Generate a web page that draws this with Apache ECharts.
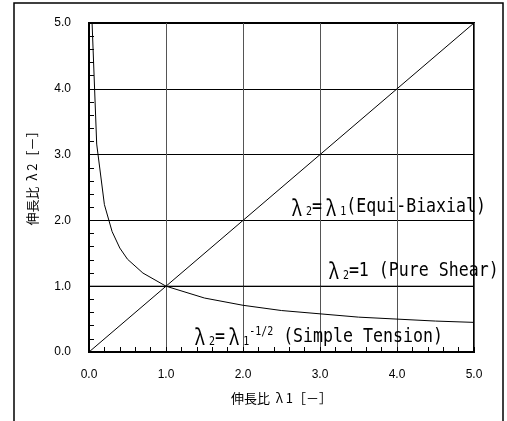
<!DOCTYPE html>
<html>
<head>
<meta charset="utf-8">
<script src="https://cdn.jsdelivr.net/npm/echarts@6/dist/echarts.min.js"></script>
<style>
html,body{margin:0;padding:0;background:#fff;}
#c{width:507px;height:421px;}
</style>
</head>
<body>
<div id="c"></div>
<script>
// ---- data ----
const xTickValues = [0, 1, 2, 3, 4, 5];
const yTickValues = [0, 1, 2, 3, 4, 5];
const equiX = [0, 5];
const equiY = [0, 5];
const shearX = [0, 5];
const shearY = [1, 1];
const tensionX = [0.04, 0.1, 0.2, 0.3, 0.4, 0.5, 0.7, 1.0, 1.5, 2.0, 2.5, 3.0, 3.5, 4.0, 4.5, 5.0];
const tensionY = [5.0, 3.16, 2.24, 1.83, 1.58, 1.41, 1.20, 1.0, 0.82, 0.71, 0.63, 0.58, 0.53, 0.50, 0.47, 0.45];
const xAxisTitle = '{c|伸長比 }{g|λ}{c|1［－］}';
const yAxisTitle = '{c|伸長比 }{g|λ}{c|2［－］}';
const labelEqui = '{l|λ}{sb|2}{n|=}{l|λ}{sb|1}{n|(Equi-Biaxial)}';
const labelShear = '{l|λ}{sb|2}{n|=1 (Pure Shear)}';
const labelTension = '{l|λ}{sb|2}{n|=}{l|λ}{sb|1}{sp|-1/2}{n| (Simple Tension)}';

const zip = (xs, ys) => xs.map((x, i) => [x, ys[i]]);

const chart = echarts.init(document.getElementById('c'), null, {renderer: 'canvas'});

const lineStyle = {color: '#000', width: 1};
const tickFont = {color: '#000', fontFamily: 'Liberation Sans, Arial, sans-serif', fontSize: 12};

const option = {
  animation: false,
  backgroundColor: '#fff',
  grid: {left: 89, right: 33, top: 23, bottom: 69, show: true, borderColor: '#000', borderWidth: 2, backgroundColor: 'transparent'},
  xAxis: {
    type: 'value', min: xTickValues[0], max: xTickValues[xTickValues.length - 1], interval: 1,
    axisLine: {show: true, onZero: false, lineStyle: {color: '#000', width: 2}},
    axisTick: {show: true, inside: true, length: 5, lineStyle: {color: '#000'}},
    minorTick: {show: true, splitNumber: 5, length: 5, lineStyle: {color: '#000'}},
    splitLine: {show: true, lineStyle: {color: '#555', width: 1}},
    axisLabel: Object.assign({margin: 17, formatter: v => v.toFixed(1)}, tickFont)
  },
  yAxis: {
    type: 'value', min: yTickValues[0], max: yTickValues[yTickValues.length - 1], interval: 1,
    axisLine: {show: true, onZero: false, lineStyle: {color: '#000', width: 2}},
    axisTick: {show: true, inside: true, length: 5, lineStyle: {color: '#000'}},
    minorTick: {show: true, splitNumber: 5, length: 5, lineStyle: {color: '#000'}},
    splitLine: {show: true, lineStyle: {color: '#000', width: 1}},
    axisLabel: Object.assign({margin: 18, formatter: v => v.toFixed(1)}, tickFont)
  },
  series: [
    {type: 'line', data: zip(equiX, equiY), showSymbol: false, symbol: 'none', lineStyle: lineStyle, silent: true},
    {type: 'line', data: zip(shearX, shearY), showSymbol: false, symbol: 'none', lineStyle: lineStyle, silent: true},
    {type: 'line', data: zip(tensionX, tensionY), showSymbol: false, symbol: 'none', lineStyle: lineStyle, silent: true, clip: true}
  ]
};
chart.setOption(option);

const richStyles = {
  n: {fontFamily: 'DejaVu Sans Mono', fontSize: 20, fill: '#000'},
  l: {fontFamily: 'Noto Sans CJK JP', fontSize: 22, fill: '#000', width: 22, align: 'center'},
  sb: {fontFamily: 'DejaVu Sans Mono', fontSize: 12, fill: '#000', verticalAlign: 'bottom', padding: [7, 0, 0, 0]},
  sp: {fontFamily: 'DejaVu Sans Mono', fontSize: 12, fill: '#000', verticalAlign: 'top', padding: [0, 0, 7, 0]}
};
const titleRich = {
  c: {fontFamily: 'Noto Sans CJK JP', fontSize: 13, fill: '#000'},
  g: {fontFamily: 'Noto Sans CJK JP', fontSize: 13, fill: '#000', width: 13, align: 'center'}
};

function annot(dataPt, text) {
  const p = chart.convertToPixel({gridIndex: 0}, dataPt);
  return {
    type: 'text', x: p[0], y: p[1], scaleX: 0.83, scaleY: 1, z: 10,
    style: {text: text, rich: richStyles, fill: '#000', align: 'left', verticalAlign: 'middle'}
  };
}

const center = chart.convertToPixel({gridIndex: 0}, [2.5, 2.5]);

chart.setOption({
  graphic: [
    {type: 'rect', shape: {x: 14, y: 3, width: 489, height: 440}, style: {fill: 'none', stroke: '#000', lineWidth: 1.5}, z: -1},
    annot([2.58, 2.2], labelEqui),
    annot([3.06, 1.23], labelShear),
    annot([1.32, 0.23], labelTension),
    {type: 'text', x: center[0], y: 398, style: {text: xAxisTitle, rich: titleRich, align: 'center', verticalAlign: 'middle'}},
    {type: 'text', x: 32, y: 175, rotation: Math.PI / 2, style: {text: yAxisTitle, rich: titleRich, align: 'center', verticalAlign: 'middle'}}
  ]
});
</script>
</body>
</html>
